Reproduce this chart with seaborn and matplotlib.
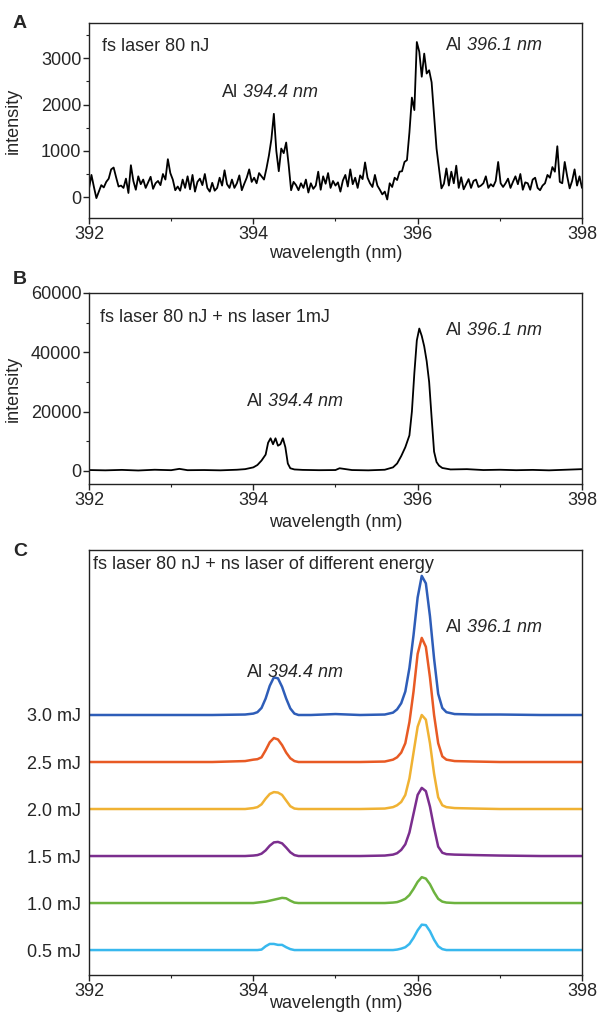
import numpy as np
import pandas as pd
import matplotlib
matplotlib.use("Agg")
import matplotlib.pyplot as plt
from matplotlib.ticker import MultipleLocator
from matplotlib.transforms import offset_copy
import seaborn as sns


# 1. Data

# panel A: fs laser only, spectrometer grid 392-398 nm (0.03 nm step)
wl_a = np.linspace(392.0, 398.0, 201)
int_a = [
    180, 480, 220, -20, 120, 260, 210, 330, 400, 600,
    640, 430, 230, 250, 200, 400, 90, 690, 350, 160,
    450, 280, 380, 200, 320, 440, 180, 300, 350, 260,
    500, 380, 820, 520, 380, 150, 230, 140, 380, 200,
    450, 170, 480, 120, 330, 400, 260, 500, 200, 120,
    310, 140, 200, 420, 250, 580, 280, 200, 380, 200,
    300, 470, 150, 290, 420, 600, 330, 420, 300, 520,
    450, 380, 620, 900, 1250, 1800, 1000, 560, 1050, 950,
    1180, 700, 150, 330, 260, 150, 300, 200, 380, 100,
    300, 180, 250, 550, 160, 450, 290, 520, 200, 350,
    250, 320, 120, 360, 480, 230, 600, 280, 420, 200,
    470, 390, 750, 420, 300, 220, 480, 250, 160, 60,
    120, -50, 300, 220, 420, 370, 550, 560, 760, 800,
    1400, 2150, 1880, 3350, 3140, 2600, 3100, 2670, 2740, 2480,
    1770, 1050, 620, 190, 290, 620, 250, 550, 300, 680,
    200, 430, 170, 280, 390, 200, 350, 380, 220, 250,
    300, 450, 200, 280, 230, 350, 760, 300, 220, 300,
    400, 200, 330, 450, 280, 500, 160, 320, 300, 160,
    380, 420, 200, 150, 250, 300, 480, 420, 650, 550,
    1100, 330, 300, 760, 450, 190, 350, 600, 250, 450,
    200,
]

# panel B: fs + ns 1 mJ
wl_b = [392.0, 392.2, 392.4, 392.6, 392.8, 393.0, 393.1, 393.2, 393.4, 393.6,
        393.8, 393.9, 394.0, 394.05, 394.1, 394.15, 394.18, 394.21, 394.24, 394.27,
        394.3, 394.33, 394.36, 394.39, 394.42, 394.45, 394.5, 394.6, 394.8, 395.0,
        395.05, 395.2, 395.4, 395.6, 395.7, 395.75, 395.8, 395.85, 395.9, 395.93,
        395.96, 395.99, 396.02, 396.05, 396.08, 396.11, 396.14, 396.17, 396.2, 396.23,
        396.26, 396.3, 396.4, 396.6, 396.8, 397.0, 397.2, 397.4, 397.6, 397.8, 398.0]
int_b = [300, 200, 350, 150, 400, 250, 700, 250, 300, 200,
         400, 600, 1200, 2000, 3500, 5500, 9500, 11000, 9000, 11000,
         8500, 9000, 11000, 8000, 2500, 900, 500, 350, 250, 300,
         900, 300, 200, 400, 1200, 2500, 5000, 8000, 12000, 20000,
         33000, 44000, 48000, 45500, 42000, 37000, 30000, 18000, 6500, 3000,
         1800, 1000, 500, 600, 300, 400, 250, 350, 200, 400, 600]

# panel C: fs + ns of different energy (stacked, arbitrary units)
wl_c = [392.0, 392.5, 393.0, 393.5, 393.9, 394.0, 394.05, 394.1, 394.15, 394.2,
        394.25, 394.3, 394.35, 394.4, 394.45, 394.5, 394.55, 394.7, 395.0, 395.3,
        395.6, 395.7, 395.75, 395.8, 395.85, 395.9, 395.95, 396.0, 396.05, 396.1,
        396.15, 396.2, 396.25, 396.3, 396.35, 396.45, 396.7, 397.0, 397.5, 398.0]
c_05 = [0, 0, 0, 0, 0, 0, 0, 0.01, 0.08, 0.13,
        0.13, 0.11, 0.11, 0.06, 0.02, 0, 0, 0, 0, 0,
        0, 0, 0.01, 0.03, 0.06, 0.13, 0.26, 0.42, 0.54, 0.53,
        0.40, 0.22, 0.08, 0.02, 0, 0, 0, 0, 0, 0]
c_10 = [0, 0, 0, 0, 0, 0, 0.01, 0.02, 0.03, 0.05,
        0.07, 0.09, 0.11, 0.10, 0.05, 0.01, 0, 0, 0, 0,
        0, 0.01, 0.02, 0.05, 0.09, 0.17, 0.30, 0.45, 0.55, 0.52,
        0.40, 0.23, 0.09, 0.03, 0.01, 0, 0, 0, 0, 0]
c_15 = [0, 0, 0, 0, 0, 0.01, 0.02, 0.05, 0.12, 0.22,
        0.29, 0.30, 0.27, 0.18, 0.08, 0.02, 0, 0, 0, 0,
        0.01, 0.03, 0.06, 0.13, 0.25, 0.50, 0.90, 1.30, 1.45, 1.38,
        1.05, 0.60, 0.20, 0.07, 0.04, 0.03, 0.02, 0.01, 0, 0]
c_20 = [0, 0, 0, 0, 0, 0.02, 0.04, 0.10, 0.22, 0.32,
        0.36, 0.35, 0.30, 0.18, 0.06, 0.01, 0, 0, 0, 0,
        0.01, 0.04, 0.08, 0.15, 0.30, 0.65, 1.20, 1.75, 2.00, 1.90,
        1.40, 0.75, 0.25, 0.08, 0.04, 0.02, 0.01, 0, 0, 0]
c_25 = [0, 0, 0, 0, 0.02, 0.05, 0.06, 0.10, 0.25, 0.42,
        0.51, 0.48, 0.36, 0.20, 0.08, 0.02, 0, 0, 0, 0,
        0.01, 0.05, 0.10, 0.20, 0.40, 0.85, 1.50, 2.30, 2.64, 2.45,
        1.80, 1.00, 0.40, 0.12, 0.05, 0.02, 0.01, 0, 0, 0]
c_30 = [0, 0, 0, 0, 0.01, 0.03, 0.06, 0.15, 0.35, 0.62,
        0.80, 0.78, 0.60, 0.35, 0.14, 0.03, 0, 0, 0.02, 0,
        0.01, 0.05, 0.12, 0.25, 0.50, 1.00, 1.70, 2.50, 2.96, 2.80,
        2.10, 1.20, 0.45, 0.15, 0.06, 0.02, 0.01, 0.01, 0, 0]

energies = ["0.5 mJ", "1.0 mJ", "1.5 mJ", "2.0 mJ", "2.5 mJ", "3.0 mJ"]
curves_c = [c_05, c_10, c_15, c_20, c_25, c_30]
colors_c = ["#38B8EE", "#6DB33F", "#7B2E8E", "#F0B233", "#E85A24", "#2E5DB8"]


# 2. Style

sns.set_style("ticks")
plt.rcParams["font.family"] = ["Liberation Sans", "DejaVu Sans"]
FS = 13
spine_col = "#222222"

fig = plt.figure(figsize=(5.98, 10.14), dpi=100)
ax_a = fig.add_axes([0.1488, 0.785, 0.8244, 0.1923])
ax_b = fig.add_axes([0.1488, 0.5227, 0.8244, 0.1884])
ax_c = fig.add_axes([0.1488, 0.0385, 0.8244, 0.4191])


def style_axis(ax):
    for s in ax.spines.values():
        s.set_visible(True)
        s.set_color(spine_col)
        s.set_linewidth(1.0)
    ax.set_xlim(392, 398)
    ax.xaxis.set_major_locator(MultipleLocator(2))
    ax.xaxis.set_minor_locator(MultipleLocator(1))
    ax.tick_params(which="major", direction="out", length=4, width=1, pad=1.5,
                   labelsize=FS, color=spine_col)
    ax.tick_params(which="minor", direction="out", length=2.5, width=0.8, color=spine_col)
    ax.set_xlabel("wavelength (nm)", fontsize=FS)
    ax.set_ylabel("")


def peak_label(ax, x, y, nm):
    # "Al" upright, wavelength in italics right after it
    ax.text(x, y, "Al", fontsize=FS, ha="left", va="center")
    shifted = offset_copy(ax.transData, fig=ax.figure, x=15.2, y=0, units="points")
    ax.text(x, y, nm + " nm", fontsize=FS, ha="left", va="center",
            style="italic", transform=shifted)


# 3. Panel A
sns.lineplot(x=wl_a, y=int_a, ax=ax_a, color="black", lw=1.3, estimator=None)
style_axis(ax_a)
ax_a.set_ylim(-450, 3760)
ax_a.yaxis.set_major_locator(MultipleLocator(1000))
ax_a.yaxis.set_minor_locator(MultipleLocator(500))
ax_a.set_ylabel("intensity", fontsize=FS)
ax_a.yaxis.set_label_coords(-0.136, 0.5)
ax_a.xaxis.set_label_coords(0.5, -0.14)
ax_a.text(0.026, 0.882, "fs laser 80 nJ", transform=ax_a.transAxes, fontsize=FS, va="center")
peak_label(ax_a, 393.62, 2270, "394.4")
peak_label(ax_a, 396.34, 3280, "396.1")

# 4. Panel B
sns.lineplot(x=wl_b, y=int_b, ax=ax_b, color="black", lw=1.3, estimator=None)
style_axis(ax_b)
ax_b.set_ylim(-4400, 60000)
ax_b.yaxis.set_major_locator(MultipleLocator(20000))
ax_b.yaxis.set_minor_locator(MultipleLocator(10000))
ax_b.set_ylabel("intensity", fontsize=FS)
ax_b.yaxis.set_label_coords(-0.136, 0.5)
ax_b.xaxis.set_label_coords(0.5, -0.155)
ax_b.text(0.022, 0.874, "fs laser 80 nJ + ns laser 1mJ", transform=ax_b.transAxes,
          fontsize=FS, va="center")
peak_label(ax_b, 396.34, 47200, "396.1")
peak_label(ax_b, 393.92, 23300, "394.4")

# 5. Panel C
rows = []
for k, (name, vals) in enumerate(zip(energies, curves_c)):
    for w, v in zip(wl_c, vals):
        rows.append({"wavelength": w, "signal": v + k, "energy": name})
df_c = pd.DataFrame(rows)
sns.lineplot(data=df_c, x="wavelength", y="signal", hue="energy", hue_order=energies,
             palette=colors_c, ax=ax_c, lw=1.8, estimator=None, legend=False)
style_axis(ax_c)
ax_c.set_ylim(-0.53, 8.51)
ax_c.set_yticks(range(len(energies)))
ax_c.set_yticklabels(energies)
ax_c.tick_params(axis="y", which="both", length=0, pad=6, labelsize=FS)
ax_c.xaxis.set_label_coords(0.5, -0.047)
ax_c.text(0.008, 0.967, "fs laser 80 nJ + ns laser of different energy",
          transform=ax_c.transAxes, fontsize=FS, va="center")
peak_label(ax_c, 393.92, 5.91, "394.4")
peak_label(ax_c, 396.34, 6.87, "396.1")

# panel letters
for letter, yy in [("A", 23), ("B", 279), ("C", 552)]:
    fig.text(20 / 598, 1 - yy / 1014, letter, fontsize=FS + 1, fontweight="bold",
             ha="center", va="center")

fig.savefig("out.png", dpi=100)
